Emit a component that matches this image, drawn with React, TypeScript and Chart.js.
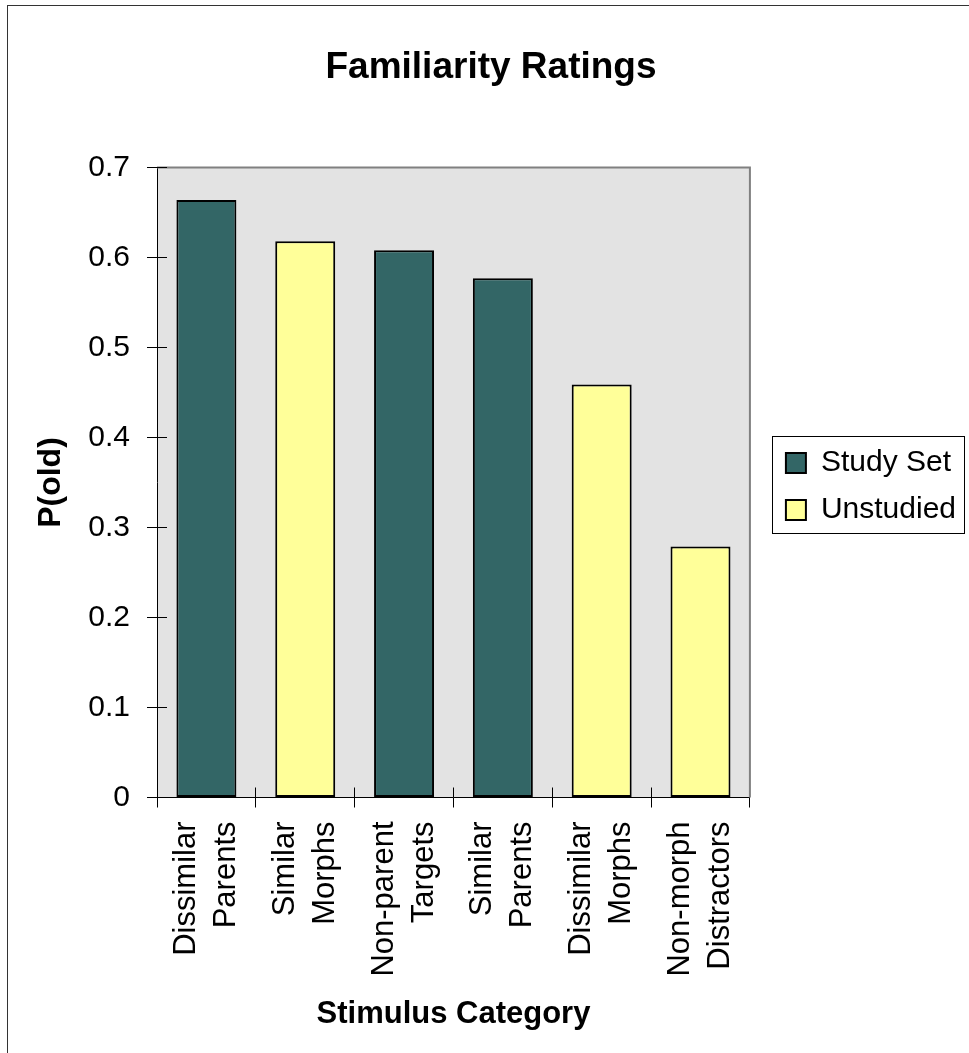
import { useEffect, useRef } from 'react';
import { Chart, registerables } from 'chart.js';

Chart.register(...registerables);

const categories: string[][] = [
  ['Dissimilar', 'Parents'],
  ['Similar', 'Morphs'],
  ['Non-parent', 'Targets'],
  ['Similar', 'Parents'],
  ['Dissimilar', 'Morphs'],
  ['Non-morph', 'Distractors'],
];
const seriesNames = ['Study Set', 'Unstudied'];
const studySet: (number | null)[] = [0.664, null, 0.608, 0.577, null, null];
const unstudied: (number | null)[] = [null, 0.618, null, null, 0.459, 0.279];
const yTickValues = [0, 0.1, 0.2, 0.3, 0.4, 0.5, 0.6, 0.7];
const yTickLabels = ['0', '0.1', '0.2', '0.3', '0.4', '0.5', '0.6', '0.7'];

const FONT = '"Liberation Sans", Arial, Helvetica, sans-serif';

const align = (p: number) => Math.round(p - 0.5) + 0.5;

const decor = {
  id: 'decor',
  beforeDraw(chart: any) {
    const { ctx, chartArea: a } = chart;
    ctx.save();
    ctx.fillStyle = '#ffffff';
    ctx.fillRect(0, 0, chart.width, chart.height);
    ctx.strokeStyle = '#333333';
    ctx.lineWidth = 1;
    ctx.strokeRect(7.5, 5.5, chart.width + 20, chart.height + 20);
    ctx.fillStyle = '#E3E3E3';
    ctx.fillRect(a.left, a.top, a.right - a.left, a.bottom - a.top);
    ctx.restore();
  },
  beforeDatasetsDraw(chart: any) {
    const { ctx, chartArea: a } = chart;
    const xs = chart.scales.x;
    const ys = chart.scales.y;
    ctx.save();
    ctx.strokeStyle = '#808080';
    ctx.lineWidth = 2;
    ctx.beginPath();
    ctx.moveTo(a.left, a.top);
    ctx.lineTo(a.right, a.top);
    ctx.lineTo(a.right, a.bottom);
    ctx.stroke();
    ctx.strokeStyle = '#000000';
    ctx.lineWidth = 1;
    ctx.beginPath();
    ys.ticks.forEach((t: any) => {
      const py = align(ys.getPixelForValue(t.value));
      ctx.moveTo(a.left, py);
      ctx.lineTo(a.left + 10, py);
    });
    for (let i = 1; i < categories.length; i++) {
      const px = align((xs.getPixelForValue(i - 1) + xs.getPixelForValue(i)) / 2);
      ctx.moveTo(px, a.bottom);
      ctx.lineTo(px, a.bottom - 10);
    }
    ctx.stroke();
    ctx.restore();
  },
  afterDraw(chart: any) {
    const { ctx } = chart;
    const lg: any = chart.legend;
    const hb = lg && lg.legendHitBoxes;
    if (hb && hb.length) {
      const first = hb[0];
      const last = hb[hb.length - 1];
      const l = Math.round(first.left - 14) + 0.5;
      const t = Math.round(first.top - 12) + 0.5;
      const r = Math.round(first.left + 178) + 0.5;
      const b = Math.round(last.top + last.height + 8) + 0.5;
      ctx.save();
      ctx.strokeStyle = '#000000';
      ctx.lineWidth = 1;
      ctx.strokeRect(l, t, r - l, b - t);
      ctx.restore();
    }
  },
};

export default function App() {
  const ref = useRef<HTMLCanvasElement | null>(null);

  useEffect(() => {
    if (!ref.current) return;
    Chart.defaults.font.family = FONT;
    Chart.defaults.color = '#000000';
    const chart = new Chart(ref.current, {
      type: 'bar',
      data: {
        labels: categories,
        datasets: [
          {
            label: seriesNames[0],
            data: studySet,
            backgroundColor: '#336666',
            borderColor: '#000000',
            borderWidth: 2,
            borderSkipped: false,
          },
          {
            label: seriesNames[1],
            data: unstudied,
            backgroundColor: '#FFFF99',
            borderColor: '#000000',
            borderWidth: 2,
            borderSkipped: false,
          },
        ],
      },
      options: {
        responsive: false,
        animation: false,
        events: [],
        layout: { padding: { left: 16, right: 3, top: 0, bottom: 0 } },
        datasets: { bar: { categoryPercentage: 1, barPercentage: 0.607 } },
        plugins: {
          title: {
            display: true,
            text: 'Familiarity Ratings',
            color: '#000000',
            font: { size: 37, weight: 'bold', family: FONT },
            padding: { top: 45.6, bottom: 77.5 },
          },
          legend: {
            display: true,
            position: 'right',
            align: 'center',
            fullSize: false,
            maxWidth: 240,
            title: {
              display: true,
              text: ' ',
              font: { size: 1 },
              padding: { top: 7, bottom: 0 },
            },
            labels: {
              color: '#000000',
              font: { size: 30, family: FONT },
              boxWidth: 20,
              boxHeight: 20,
              padding: 17,
            },
          },
          tooltip: { enabled: false },
        },
        scales: {
          x: {
            type: 'category',
            stacked: true,
            offset: true,
            grid: {
              display: true,
              offset: true,
              drawOnChartArea: false,
              drawTicks: true,
              tickLength: 10,
              color: '#000000',
              lineWidth: 1,
            },
            border: { display: true, color: '#000000', width: 1 },
            ticks: {
              color: '#000000',
              font: { size: 31, lineHeight: 1.29, family: FONT },
              minRotation: 90,
              maxRotation: 90,
              autoSkip: false,
              padding: 14,
              labelOffset: -20,
            },
            title: {
              display: true,
              text: 'Stimulus Category',
              color: '#000000',
              font: { size: 31, weight: 'bold', family: FONT },
              padding: { top: 0, bottom: 20 },
            },
            afterFit: (s: any) => {
              s.height = 255.5;
            },
          },
          y: {
            type: 'linear',
            min: 0,
            max: 0.7,
            afterBuildTicks: (s: any) => {
              s.ticks = yTickValues.map((v) => ({ value: v }));
            },
            ticks: {
              color: '#000000',
              font: { size: 30, family: FONT },
              padding: 17,
              callback: (_v: any, i: number) => yTickLabels[i],
            },
            grid: {
              drawOnChartArea: false,
              drawTicks: true,
              tickLength: 10,
              color: '#000000',
              lineWidth: 1,
            },
            border: { display: true, color: '#000000', width: 1 },
            title: {
              display: true,
              text: 'P(old)',
              color: '#000000',
              font: { size: 32, weight: 'bold', family: FONT },
              padding: { top: 15.8, bottom: 0 },
            },
            afterFit: (s: any) => {
              s.width = 141;
            },
          },
          y2: {
            type: 'linear',
            position: 'right',
            display: true,
            grid: { display: false },
            border: { display: false },
            ticks: { display: false },
            afterFit: (s: any) => {
              s.width = 19;
            },
          },
        },
      } as any,
      plugins: [decor],
    });
    return () => chart.destroy();
  }, []);

  return (
    <div style={{ position: 'absolute', left: 0, top: 0, width: 969, height: 1053 }}>
      <canvas ref={ref} width={969} height={1053} style={{ display: 'block' }} />
    </div>
  );
}
